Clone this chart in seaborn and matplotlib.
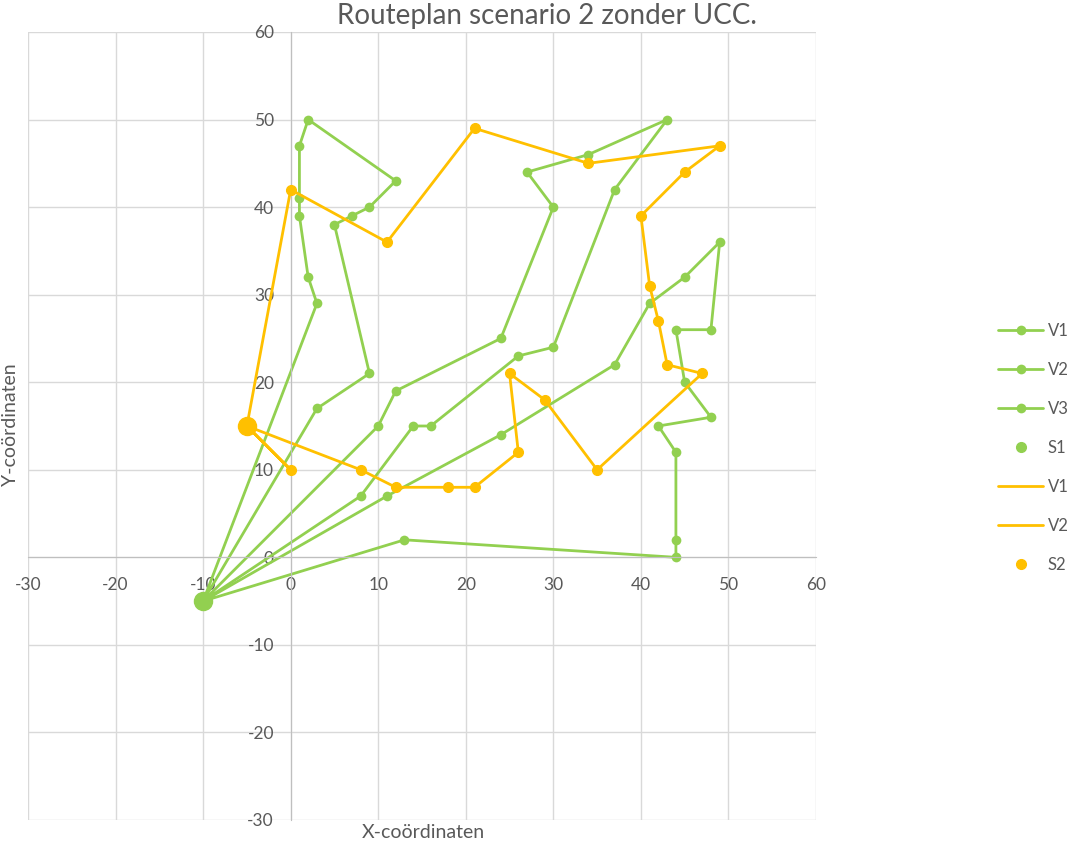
import numpy as np
import pandas as pd
import matplotlib.pyplot as plt
import seaborn as sns

# Route data (depot at start and end of each route)
depot1_x, depot1_y = [-10], [-5]
depot2_x, depot2_y = [-5], [15]

g_v1_x = [-10, 3, 9, 5, 7, 9, 12, 2, 1, 1, 1, 2, 3, -10]
g_v1_y = [-5, 17, 21, 38, 39, 40, 43, 50, 47, 41, 39, 32, 29, -5]

g_v2_x = [-10, 8, 14, 16, 26, 30, 37, 43, 34, 27, 30, 24, 12, 10, -10]
g_v2_y = [-5, 7, 15, 15, 23, 24, 42, 50, 46, 44, 40, 25, 19, 15, -5]

g_v3_x = [-10, 11, 24, 37, 41, 45, 49, 48, 44, 45, 48, 42, 44, 44, 44, 13, -10]
g_v3_y = [-5, 7, 14, 22, 29, 32, 36, 26, 26, 20, 16, 15, 12, 2, 0, 2, -5]

o_v1_x = [-5, 0, 11, 21, 34, 49, 45, 40, 41, 42, 43, 47, 35, 29, 25, 26, 21, 18, 12, 8, -5]
o_v1_y = [15, 42, 36, 49, 45, 47, 44, 39, 31, 27, 22, 21, 10, 18, 21, 12, 8, 8, 8, 10, 15]

o_v2_x = [-5, 0, -5]
o_v2_y = [15, 10, 15]

GREEN = "#92D050"
ORANGE = "#FFC000"
GREY = "#595959"

sns.set_style("white")
plt.rcParams['font.family'] = ['Lato', 'DejaVu Sans']
plt.rcParams['axes.unicode_minus'] = False

fig = plt.figure(figsize=(10.7, 8.44), dpi=100)
ax = fig.add_axes([28/1070, 24/844, 788/1070, 788/844])

# green routes
for xs, ys, lab in [(g_v1_x, g_v1_y, "V1"), (g_v2_x, g_v2_y, "V2"), (g_v3_x, g_v3_y, "V3")]:
    sns.lineplot(x=xs, y=ys, sort=False, estimator=None, color=GREEN, lw=2,
                 marker="o", markersize=7, markeredgewidth=0, label=lab, ax=ax)
ax.plot(depot1_x, depot1_y, "o", color=GREEN, markersize=13, label="S1", zorder=5)

# orange routes
for xs, ys, lab in [(o_v1_x, o_v1_y, "V1"), (o_v2_x, o_v2_y, "V2")]:
    sns.lineplot(x=xs, y=ys, sort=False, estimator=None, color=ORANGE, lw=2,
                 label=lab, ax=ax)
    ax.plot(xs[1:-1], ys[1:-1], "o", color=ORANGE, markersize=7, zorder=4)
ax.plot(depot2_x, depot2_y, "o", color=ORANGE, markersize=13, label="S2", zorder=5)

# axes styling (Excel look)
ax.set_xlim(-30, 60)
ax.set_ylim(-30, 60)
ax.set_xticks(np.arange(-30, 61, 10))
ax.set_yticks(np.arange(-30, 61, 10))
ax.grid(True, color="#d9d9d9", lw=1)
for gl in ax.get_xgridlines() + ax.get_ygridlines():
    gl.set_clip_on(False)
ax.set_axisbelow(True)
for s in ["top", "right"]:
    ax.spines[s].set_visible(False)
ax.spines["bottom"].set_position(("data", 0))
ax.spines["left"].set_position(("data", 0))
ax.spines["bottom"].set_color("#bfbfbf")
ax.spines["left"].set_color("#bfbfbf")
ax.tick_params(axis="both", length=0, labelsize=12.5, labelcolor=GREY)
ax.tick_params(axis="x", pad=14)
ax.tick_params(axis="y", pad=12)
ax.set_xlabel("")
ax.set_ylabel("")
ax.get_legend().remove()

fig.text(547/1070, 1 - 16/844, "Routeplan scenario 2 zonder UCC.", ha="center",
         va="center", fontsize=20, color=GREY)
fig.text(423/1070, 1 - 832/844, "X-coördinaten", ha="center", va="center",
         fontsize=14, color=GREY)
fig.text(11/1070, 1 - 425/844, "Y-coördinaten", ha="center", va="center",
         rotation=90, fontsize=14, color=GREY)

handles, labels = ax.get_legend_handles_labels()
leg = fig.legend(handles, labels, loc="upper left",
                 bbox_to_anchor=(998/1070, 1 - 323/844), frameon=False,
                 fontsize=12, labelspacing=1.38, handlelength=2.7,
                 handletextpad=0.3, borderpad=0, borderaxespad=0)
for t in leg.get_texts():
    t.set_color(GREY)
for h in leg.legend_handles:
    if h.get_markersize() > 10:
        h.set_markersize(7)

fig.savefig("out.png", dpi=100)
